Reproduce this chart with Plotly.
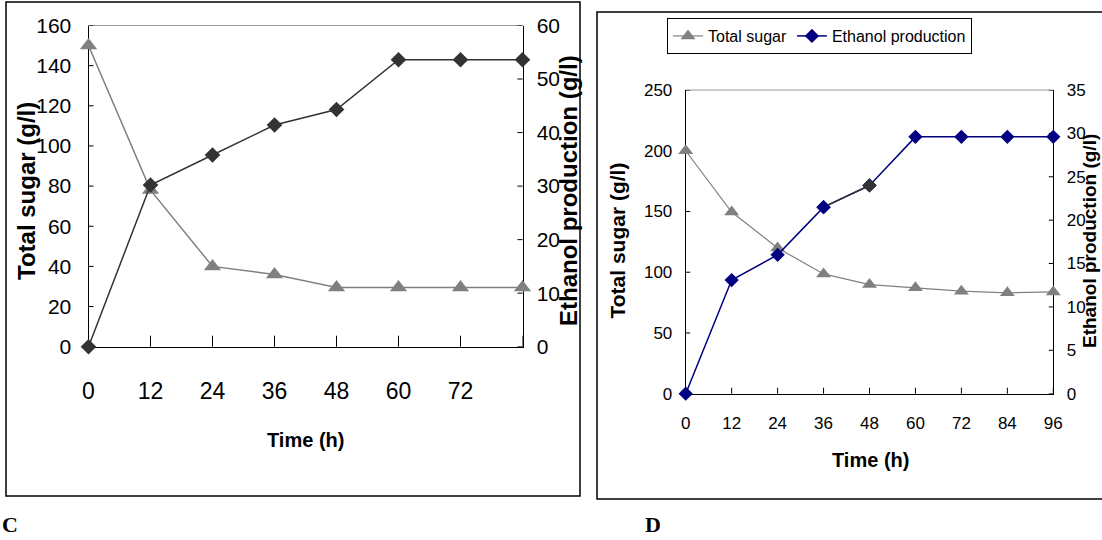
import plotly.graph_objects as go

W, H = 1102, 540

# ---- Panel C: batch fermentation, 0-84 h ----
time_c = [0, 12, 24, 36, 48, 60, 72, 84]
sugar_c = [150, 78, 40, 36, 29.5, 29.5, 29.5, 29.5]
ethanol_c = [0, 30.2, 35.8, 41.4, 44.3, 53.6, 53.6, 53.6]
c_x_ticks = [0, 12, 24, 36, 48, 60, 72, 84]
c_x_labels = ["0", "12", "24", "36", "48", "60", "72", ""]
c_y_ticks = [0, 20, 40, 60, 80, 100, 120, 140, 160]
c_y2_ticks = [0, 10, 20, 30, 40, 50, 60]

# ---- Panel D: batch fermentation, 0-96 h ----
time_d = [0, 12, 24, 36, 48, 60, 72, 84, 96]
sugar_d = [200, 149.5, 120, 98.6, 89.8, 87.2, 84.4, 83, 83.8]
ethanol_d = [0, 13.1, 16.0, 21.5, 24.0, 29.6, 29.6, 29.6, 29.6]
d_x_ticks = [0, 12, 24, 36, 48, 60, 72, 84, 96]
d_y_ticks = [0, 50, 100, 150, 200, 250]
d_y2_ticks = [0, 5, 10, 15, 20, 25, 30, 35]

GRAY = "#808080"
DARK = "#333333"
NAVY = "#000080"
SANS = "Liberation Sans, Arial, sans-serif"
SERIF = "Liberation Serif, Times New Roman, serif"


def px(x):
    return x / W


def py(y):
    return 1 - y / H


# plot-area boxes in pixels (left, right, top, bottom)
C_BOX = (88.5, 522.5, 25.5, 346.7)
D_BOX = (685.7, 1053.3, 90.0, 393.7)

fig = go.Figure()

# Panel C traces
fig.add_trace(go.Scatter(
    x=time_c, y=sugar_c, mode="lines+markers", name="Total sugar",
    line=dict(color=GRAY, width=1.5),
    marker=dict(symbol="triangle-up", size=15, color=GRAY),
    xaxis="x", yaxis="y", cliponaxis=False, showlegend=False))
fig.add_trace(go.Scatter(
    x=time_c, y=ethanol_c, mode="lines+markers", name="Ethanol production",
    line=dict(color=DARK, width=1.5),
    marker=dict(symbol="diamond", size=12, color=DARK),
    xaxis="x", yaxis="y2", cliponaxis=False, showlegend=False))

# Panel D traces
fig.add_trace(go.Scatter(
    x=time_d, y=sugar_d, mode="lines+markers", name="Total sugar",
    line=dict(color=GRAY, width=1.2),
    marker=dict(symbol="triangle-up", size=13, color=GRAY),
    xaxis="x2", yaxis="y3", cliponaxis=False))
fig.add_trace(go.Scatter(
    x=time_d, y=ethanol_d, mode="lines+markers", name="Ethanol production",
    line=dict(color=NAVY, width=1.5),
    marker=dict(symbol="diamond", size=11, color=NAVY),
    xaxis="x2", yaxis="y4", cliponaxis=False))
# the 48 h point and the segment leading to it are drawn in dark grey
fig.add_trace(go.Scatter(
    x=time_d[3:5], y=ethanol_d[3:5], mode="lines+markers",
    line=dict(color=DARK, width=1.5),
    marker=dict(symbol="diamond", size=11, color=[NAVY, DARK]),
    xaxis="x2", yaxis="y4", cliponaxis=False, showlegend=False))

shapes = []
# panel frames
shapes.append(dict(type="rect", xref="paper", yref="paper",
                   x0=px(6), x1=px(580), y0=py(496), y1=py(2),
                   line=dict(color="black", width=1.5), layer="below"))
shapes.append(dict(type="rect", xref="paper", yref="paper",
                   x0=px(597), x1=px(1120), y0=py(499), y1=py(12),
                   line=dict(color="black", width=1.5), layer="below"))
# grey plot-area top border
for xr, yr in (("x domain", "y domain"), ("x2 domain", "y3 domain")):
    shapes.append(dict(type="line", xref=xr, yref=yr, x0=0, x1=1, y0=1, y1=1,
                       line=dict(color="#999999", width=1.2), layer="below"))


def cross_ticks_x(xref, yref, vals, half):
    for v in vals:
        shapes.append(dict(type="line", xref=xref, yref=yref, x0=v, x1=v,
                           ysizemode="pixel", yanchor=0, y0=-half, y1=half,
                           line=dict(color="black", width=1), layer="below"))


def cross_ticks_y(xref, yref, vals, anchor, half):
    for v in vals:
        shapes.append(dict(type="line", xref=xref, yref=yref, y0=v, y1=v,
                           xsizemode="pixel", xanchor=anchor, x0=-half, x1=half,
                           line=dict(color="black", width=1), layer="below"))


cross_ticks_x("x", "y", c_x_ticks, 11)
cross_ticks_y("x", "y", c_y_ticks, 0, 5)
cross_ticks_y("x", "y2", c_y2_ticks, 84, 5)
cross_ticks_x("x2", "y3", d_x_ticks, 6)
cross_ticks_y("x2", "y3", d_y_ticks, 0, 4.5)
cross_ticks_y("x2", "y4", d_y2_ticks, 96, 4.5)

axis_common = dict(showline=True, linecolor="black", linewidth=1, ticks="",
                   showgrid=False, zeroline=False, layer="below traces",
                   fixedrange=True, automargin=False)

annotations = [
    dict(text="<b>Total sugar (g/l)</b>", x=px(27), y=py(191), textangle=-90,
         font=dict(family=SANS, size=24, color="black")),
    dict(text="<b>Ethanol production (g/l)</b>", x=px(569), y=py(191), textangle=-90,
         font=dict(family=SANS, size=24, color="black")),
    dict(text="<b>Time (h)</b>", x=px(305), y=py(440),
         font=dict(family=SANS, size=20, color="black")),
    dict(text="<b>Total sugar (g/l)</b>", x=px(616.5), y=py(241), textangle=-90,
         font=dict(family=SANS, size=21, color="black")),
    dict(text="<b>Ethanol production (g/l)</b>", x=px(1089), y=py(241), textangle=-90,
         font=dict(family=SANS, size=19, color="black")),
    dict(text="<b>Time (h)</b>", x=px(870), y=py(460),
         font=dict(family=SANS, size=20, color="black")),
    dict(text="<b>C</b>", x=px(10), y=py(524),
         font=dict(family=SERIF, size=22, color="black")),
    dict(text="<b>D</b>", x=px(653), y=py(524),
         font=dict(family=SERIF, size=22, color="black")),
]
for a in annotations:
    a.update(xref="paper", yref="paper", showarrow=False,
             xanchor="center", yanchor="middle")

fig.update_layout(
    template="none",
    width=W, height=H,
    margin=dict(l=0, r=0, t=0, b=0, pad=0, autoexpand=False),
    paper_bgcolor="white", plot_bgcolor="rgba(0,0,0,0)",
    font=dict(family=SANS, color="black"),
    xaxis=dict(domain=[px(C_BOX[0]), px(C_BOX[1])], anchor="y", range=[0, 84],
               tickvals=c_x_ticks, ticktext=c_x_labels, ticklabelstandoff=24,
               tickfont=dict(family=SANS, size=23, color="black"), **axis_common),
    yaxis=dict(domain=[py(C_BOX[3]), py(C_BOX[2])], anchor="x", range=[0, 160],
               tickvals=c_y_ticks, ticklabelstandoff=12,
               tickfont=dict(family=SANS, size=21, color="black"), **axis_common),
    yaxis2=dict(overlaying="y", side="right", anchor="x", range=[0, 60],
                tickvals=c_y2_ticks, ticklabelstandoff=9,
                tickfont=dict(family=SANS, size=21, color="black"), **axis_common),
    xaxis2=dict(domain=[px(D_BOX[0]), px(D_BOX[1])], anchor="y3", range=[0, 96],
                tickvals=d_x_ticks, ticklabelstandoff=14,
                tickfont=dict(family=SANS, size=17, color="black"), **axis_common),
    yaxis3=dict(domain=[py(D_BOX[3]), py(D_BOX[2])], anchor="x2", range=[0, 250],
                tickvals=d_y_ticks, ticklabelstandoff=9,
                tickfont=dict(family=SANS, size=17, color="black"), **axis_common),
    yaxis4=dict(overlaying="y3", side="right", anchor="x2", range=[0, 35],
                tickvals=d_y2_ticks, ticklabelstandoff=9,
                tickfont=dict(family=SANS, size=17, color="black"), **axis_common),
    legend=dict(orientation="h", x=px(667), y=py(18), xanchor="left", yanchor="top",
                bgcolor="white", bordercolor="black", borderwidth=1,
                font=dict(family=SANS, size=16, color="black"),
                itemwidth=30, tracegroupgap=0),
    shapes=shapes,
    annotations=annotations,
)

fig.write_html("out.html", config={"displayModeBar": False})
